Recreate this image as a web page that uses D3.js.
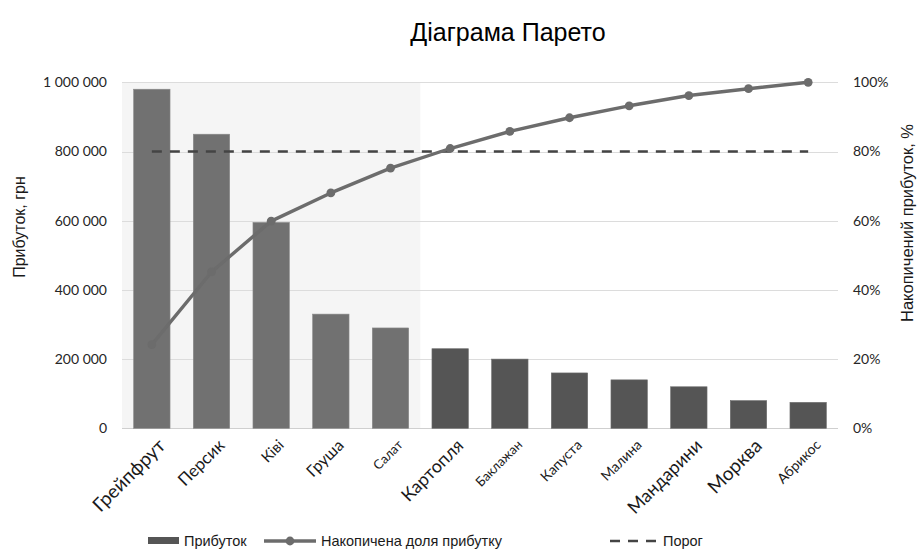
<!DOCTYPE html>
<html>
<head>
<meta charset="utf-8">
<script src="https://cdn.jsdelivr.net/npm/d3@7/dist/d3.min.js"></script>
<style>
  html, body { margin: 0; padding: 0; background: #fff; }
  svg { display: block; }
</style>
</head>
<body>
<svg id="chart" width="919" height="552"></svg>
<script>
// Pareto chart: profit by product, sorted descending, with cumulative share
const categories = ["Грейпфрут", "Персик", "Ківі", "Груша", "Салат", "Картопля",
                    "Баклажан", "Капуста", "Малина", "Мандарини", "Морква", "Абрикос"];
const profit = [980000, 850000, 595000, 330000, 290000, 230000,
                200000, 160000, 140000, 120000, 80000, 75000];
const threshold = 0.8;
const leftTicks = [0, 200000, 400000, 600000, 800000, 1000000];
const rightTicks = [0, 0.2, 0.4, 0.6, 0.8, 1];

// per-label font sizes on the category axis
const categoryFontSizes = [19, 17, 15, 16, 13, 18, 13, 14, 14, 18, 19, 14];

const total = d3.sum(profit);
let running = 0;
const cumulative = profit.map(v => (running += v) / total);

const plot = { left: 122, right: 838, top: 82.3, bottom: 428.3 };

const svg = d3.select("#chart");

const x = d3.scaleBand()
  .domain(categories)
  .range([plot.left, plot.right])
  .paddingInner(0.39)
  .paddingOuter(0.195);
const y = d3.scaleLinear().domain([0, 1000000]).range([plot.bottom, plot.top]);
const yPct = d3.scaleLinear().domain([0, 1]).range([plot.bottom, plot.top]);
const cx = d => x(d) + x.bandwidth() / 2;

const uaLocale = d3.formatLocale({ decimal: ",", thousands: " ", grouping: [3], currency: ["", " грн"] });
const fmtNum = uaLocale.format(",d");
const fmtPct = d3.format(".0%");

// shaded band behind the "vital few" categories (cumulative share within the threshold)
const vitalCount = cumulative.filter(c => c <= threshold).length;
svg.append("rect")
  .attr("x", plot.left)
  .attr("y", plot.top)
  .attr("width", x.step() * vitalCount)
  .attr("height", plot.bottom - plot.top)
  .attr("fill", "#f5f5f5");

// horizontal gridlines
svg.append("g")
  .selectAll("line")
  .data(leftTicks)
  .join("line")
  .attr("x1", plot.left).attr("x2", plot.right)
  .attr("y1", d => Math.round(y(d)) + 0.5).attr("y2", d => Math.round(y(d)) + 0.5)
  .attr("stroke", d => d === 0 ? "#cfcfcf" : "#dcdcdc")
  .attr("stroke-width", 1);

// left axis
const axisL = svg.append("g")
  .attr("transform", `translate(${plot.left - 15},0)`)
  .call(d3.axisLeft(y).tickValues(leftTicks).tickFormat(fmtNum).tickSize(0).tickPadding(0));
axisL.select(".domain").remove();
axisL.selectAll("text")
  .attr("font-family", "Lato, 'Open Sans', sans-serif")
  .attr("font-size", 14)
  .attr("fill", "#262626");

// right axis
const axisR = svg.append("g")
  .attr("transform", `translate(${plot.right + 15},0)`)
  .call(d3.axisRight(yPct).tickValues(rightTicks).tickFormat(fmtPct).tickSize(0).tickPadding(0));
axisR.select(".domain").remove();
axisR.selectAll("text")
  .attr("font-family", "Lato, 'Open Sans', sans-serif")
  .attr("font-size", 14)
  .attr("fill", "#262626");

// bars
svg.append("g")
  .selectAll("rect")
  .data(categories.map((c, i) => ({ c, v: profit[i], i })))
  .join("rect")
  .attr("x", d => x(d.c))
  .attr("y", d => y(d.v))
  .attr("width", x.bandwidth())
  .attr("height", d => y(0) - y(d.v))
  .attr("fill", d => d.i < vitalCount ? "#717171" : "#555555")
  .attr("stroke", d => d.i < vitalCount ? "#8a8a8a" : "#6e6e6e")
  .attr("stroke-width", 0.6);

// threshold line
svg.append("line")
  .attr("x1", cx(categories[0]))
  .attr("x2", cx(categories[categories.length - 1]))
  .attr("y1", yPct(threshold)).attr("y2", yPct(threshold))
  .attr("stroke", "#444444")
  .attr("stroke-width", 2.6)
  .attr("stroke-dasharray", "10 8");

// cumulative share line
const line = d3.line()
  .x((d, i) => cx(categories[i]))
  .y(d => yPct(d));
svg.append("path")
  .datum(cumulative)
  .attr("d", line)
  .attr("fill", "none")
  .attr("stroke", "#6c6c6c")
  .attr("stroke-width", 3.4)
  .attr("stroke-linejoin", "round")
  .attr("stroke-linecap", "round");
svg.append("g")
  .selectAll("circle")
  .data(cumulative)
  .join("circle")
  .attr("cx", (d, i) => cx(categories[i]))
  .attr("cy", d => yPct(d))
  .attr("r", 4.4)
  .attr("fill", "#6c6c6c");

// category axis with rotated labels
const axisB = svg.append("g")
  .attr("transform", `translate(0,${plot.bottom + 10})`)
  .call(d3.axisBottom(x).tickSize(0).tickPadding(0));
axisB.select(".domain").remove();
axisB.selectAll(".tick text")
  .attr("font-family", "Lato, 'Open Sans', sans-serif")
  .attr("font-size", (d, i) => categoryFontSizes[i])
  .attr("fill", "#1a1a1a")
  .attr("text-anchor", "end")
  .attr("y", 0)
  .attr("dy", "0.35em")
  .attr("transform", "translate(10,4) rotate(-45)");

// title
svg.append("text")
  .attr("x", 508).attr("y", 41)
  .attr("text-anchor", "middle")
  .attr("font-family", "'Liberation Sans', Arial, sans-serif")
  .attr("font-size", 25)
  .attr("fill", "#000")
  .text("Діаграма Парето");

// axis titles
svg.append("text")
  .attr("transform", `translate(25,227) rotate(-90)`)
  .attr("text-anchor", "middle")
  .attr("font-family", "'Liberation Sans', Arial, sans-serif")
  .attr("font-size", 16)
  .attr("fill", "#1a1a1a")
  .text("Прибуток, грн");
svg.append("text")
  .attr("transform", `translate(913,223) rotate(-90)`)
  .attr("text-anchor", "middle")
  .attr("font-family", "'Liberation Sans', Arial, sans-serif")
  .attr("font-size", 16.5)
  .attr("fill", "#1a1a1a")
  .text("Накопичений прибуток, %");

// legend
const legY = 541;
const legend = svg.append("g").attr("font-family", "'Liberation Sans', Arial, sans-serif")
  .attr("font-size", 14.5).attr("fill", "#1a1a1a");
legend.append("rect").attr("x", 148).attr("y", legY - 4).attr("width", 31).attr("height", 7).attr("fill", "#555555");
legend.append("text").attr("x", 184).attr("y", legY).attr("dy", "0.35em").text("Прибуток");
legend.append("line").attr("x1", 264).attr("x2", 316).attr("y1", legY).attr("y2", legY)
  .attr("stroke", "#6c6c6c").attr("stroke-width", 3.4);
legend.append("circle").attr("cx", 290).attr("cy", legY).attr("r", 4.4).attr("fill", "#6c6c6c");
legend.append("text").attr("x", 321).attr("y", legY).attr("dy", "0.35em").text("Накопичена доля прибутку");
legend.append("line").attr("x1", 610).attr("x2", 656).attr("y1", legY).attr("y2", legY)
  .attr("stroke", "#444444").attr("stroke-width", 2.6).attr("stroke-dasharray", "10 8");
legend.append("text").attr("x", 663).attr("y", legY).attr("dy", "0.35em").text("Порог");
</script>
</body>
</html>
